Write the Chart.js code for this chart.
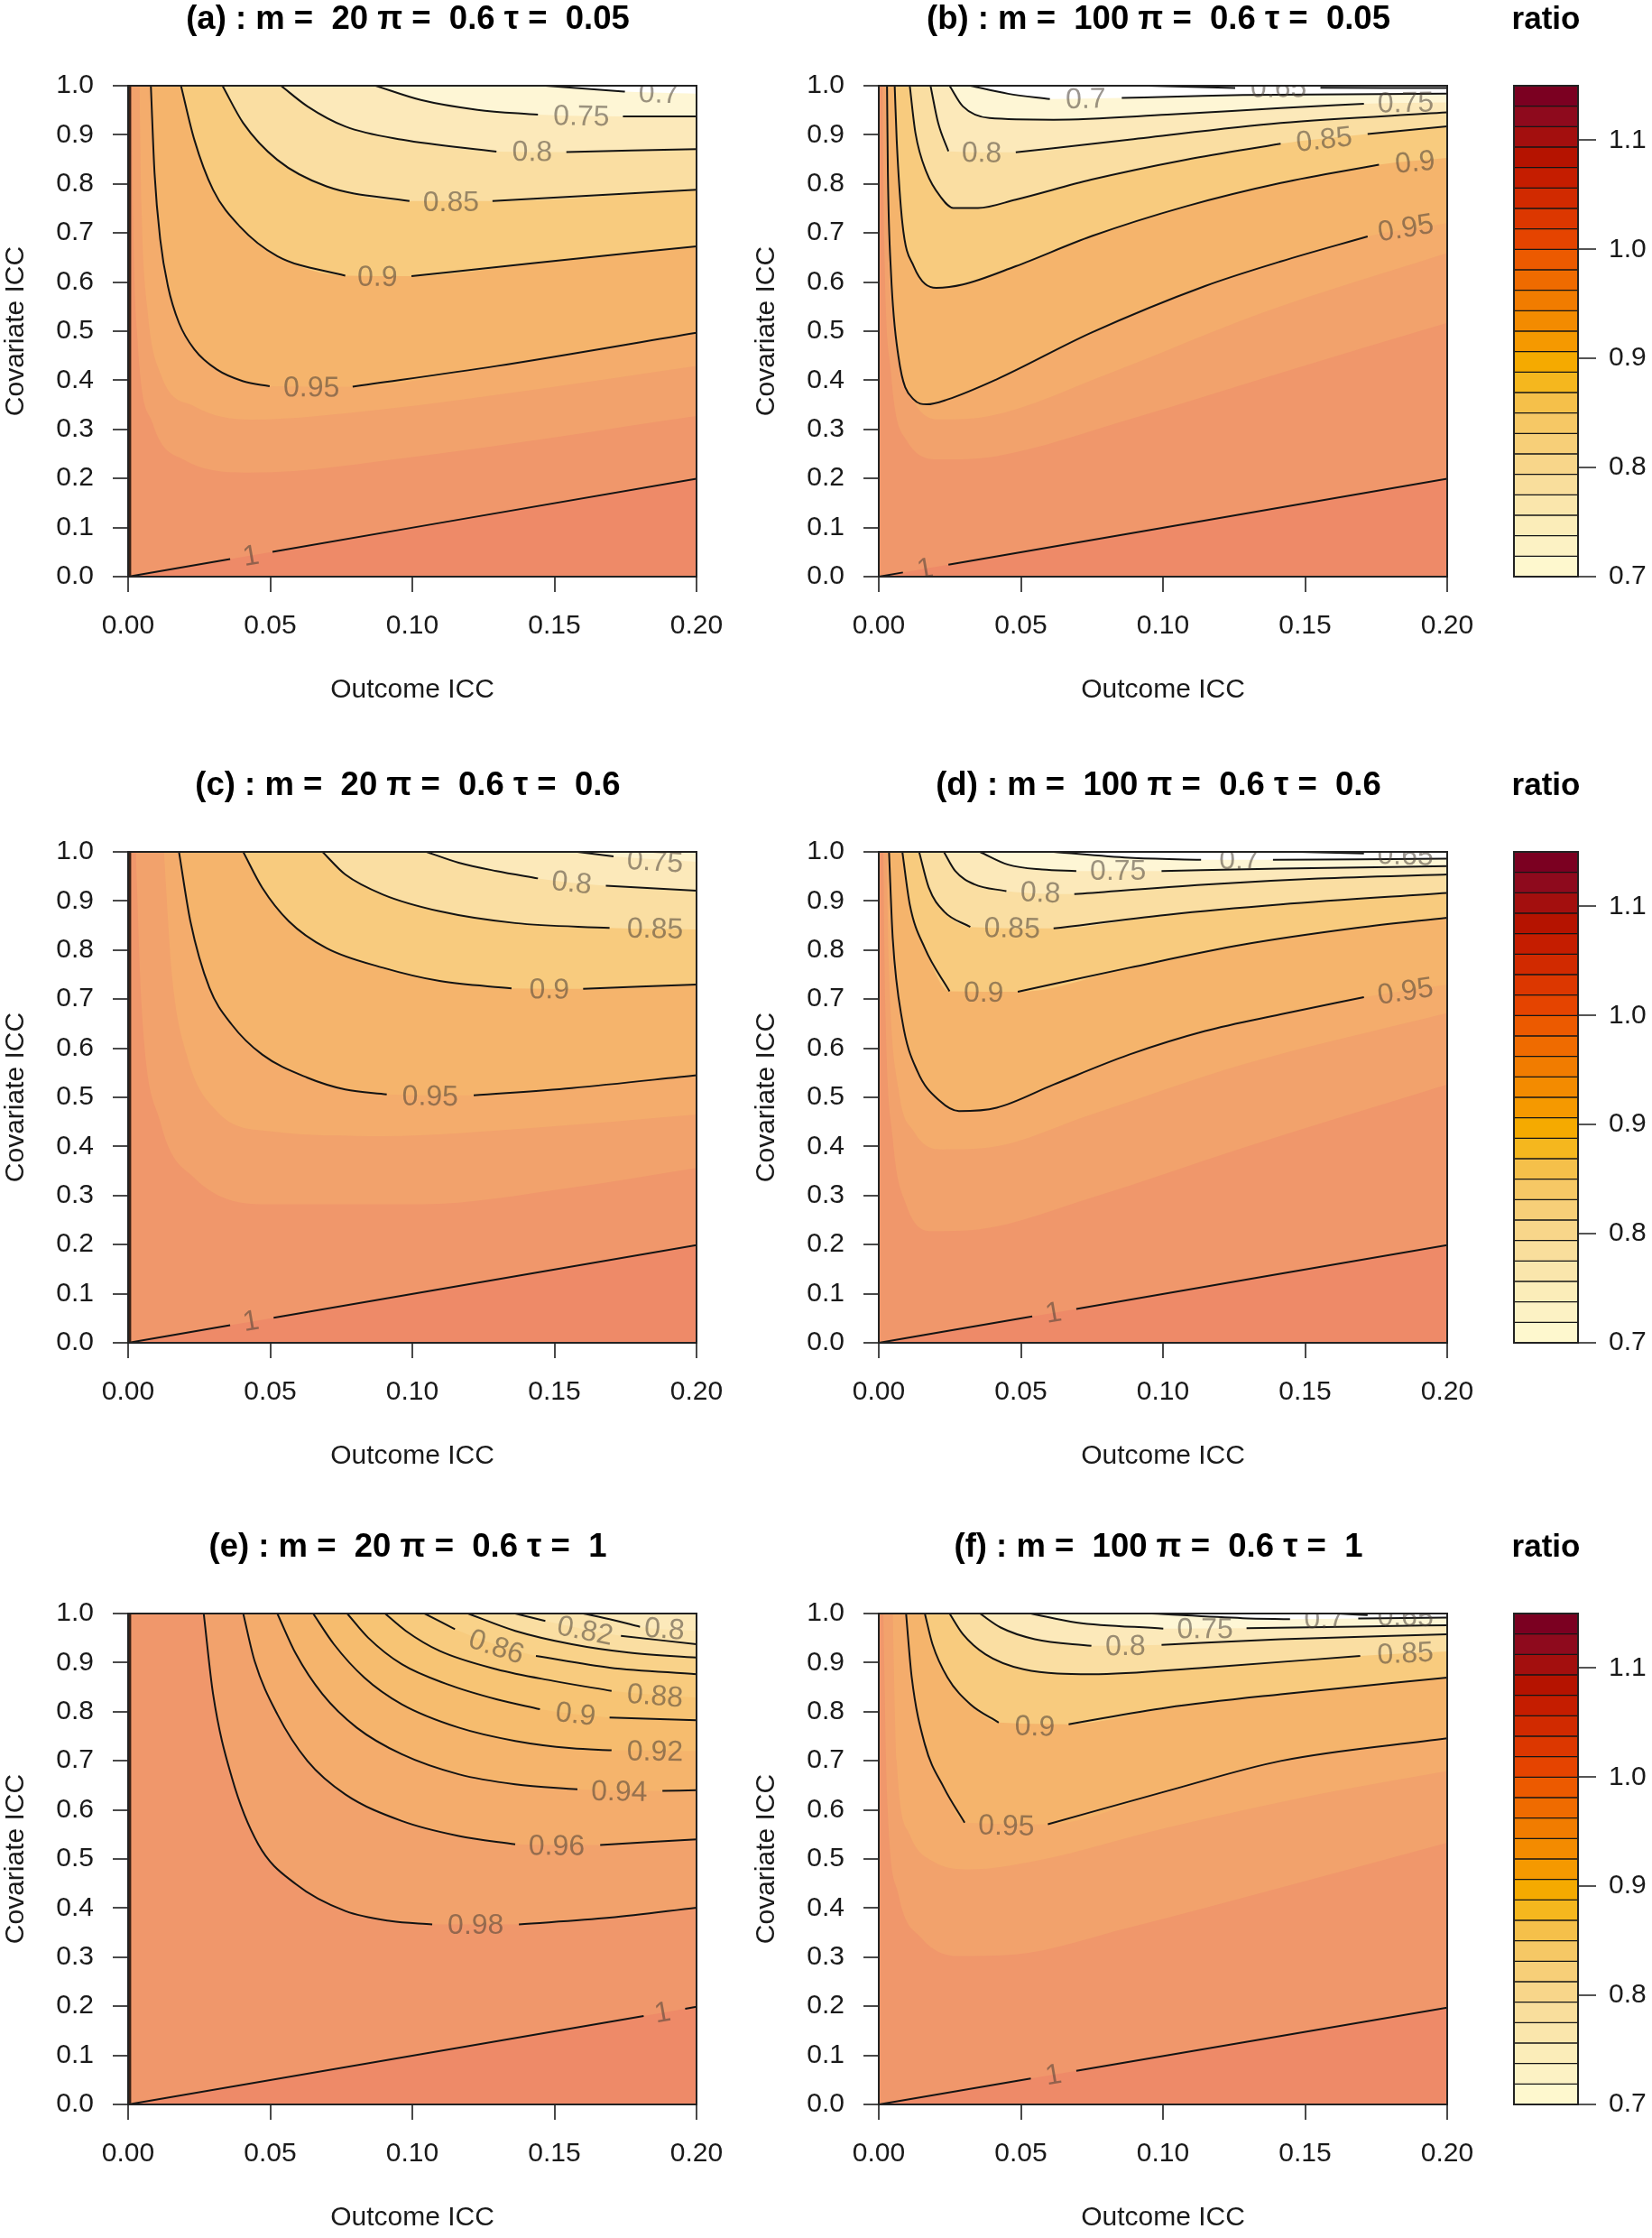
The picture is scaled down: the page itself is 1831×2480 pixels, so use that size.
<!DOCTYPE html>
<html><head><meta charset="utf-8"><title>ratio contours</title>
<script src="https://cdn.jsdelivr.net/npm/chart.js@4.4.1/dist/chart.umd.min.js"></script>
<style>
html,body{margin:0;padding:0;background:#fff;}
body{width:1831px;height:2480px;position:relative;overflow:hidden;}
canvas{position:absolute;}
</style></head><body>
<script>
// ---------- axes / colour scale ----------
const xTicks=[0,0.05,0.10,0.15,0.20];
const yTicks=[0,0.1,0.2,0.3,0.4,0.5,0.6,0.7,0.8,0.9,1.0];
const cbTicks=[0.7,0.8,0.9,1.0,1.1];
const cbLevels=[0.7,0.71875,0.7375,0.75625,0.775,0.79375,0.8125,0.83125,0.85,0.86875,0.8875,0.90625,0.925,0.94375,0.9625,0.98125,1.0,1.01875,1.0375,1.05625,1.075,1.09375,1.1125,1.13125,1.15];

// ---------- panel titles ----------
const titles=["(a) : m =  20 \u03c0 =  0.6 \u03c4 =  0.05","(b) : m =  100 \u03c0 =  0.6 \u03c4 =  0.05",
"(c) : m =  20 \u03c0 =  0.6 \u03c4 =  0.6","(d) : m =  100 \u03c0 =  0.6 \u03c4 =  0.6",
"(e) : m =  20 \u03c0 =  0.6 \u03c4 =  1","(f) : m =  100 \u03c0 =  0.6 \u03c4 =  1"];

// ---------- panel (a) contour curves [outcome ICC, covariate ICC] ----------
const a_l070=[[0.1469,1.0],[0.1748,0.988],[0.2,0.984]];
const a_l075=[[0.0871,1.0],[0.103,0.971],[0.1229,0.951],[0.1442,0.941],[0.1741,0.9376],[0.2,0.9376]];
const a_l080=[[0.0538,1.0],[0.0631,0.958],[0.0764,0.917],[0.0964,0.890],[0.1296,0.866],[0.1542,0.865],[0.2,0.871]];
const a_l085=[[0.0332,1.0],[0.0405,0.924],[0.0525,0.849],[0.0698,0.795],[0.099,0.765],[0.1282,0.765],[0.2,0.788]];
const a_l090=[[0.0186,1.0],[0.0233,0.890],[0.0299,0.788],[0.0392,0.714],[0.0525,0.653],[0.0764,0.613],[0.0997,0.612],[0.1429,0.639],[0.2,0.673]];
const a_l095=[[0.008,1.0],[0.0093,0.822],[0.0113,0.687],[0.014,0.592],[0.0179,0.517],[0.0233,0.463],[0.0312,0.422],[0.0405,0.398],[0.0498,0.388],[0.079,0.387],[0.1296,0.429],[0.2,0.497]];
const a_l100=[[0,0],[0.0359,0.0358],[0.0508,0.0507],[0.2,0.1995]];
const a_f981=[[0.0013,1.0],[0.0017,0.754],[0.0033,0.483],[0.0086,0.313],[0.0193,0.239],[0.0432,0.212],[0.103,0.246],[0.2,0.327]];
const a_f963=[[0.004,1.0],[0.0047,0.754],[0.0067,0.551],[0.0113,0.415],[0.0233,0.347],[0.0432,0.320],[0.0897,0.341],[0.1429,0.381],[0.2,0.429]];
const a_labels=[[0.7,0.1867,0.984],[0.75,0.1595,0.9376],[0.8,0.1422,0.865],[0.85,0.1136,0.7626],[0.9,0.0877,0.6106],[0.95,0.0645,0.385],[1,0.0432,0.042]];

// ---------- panel (b) ----------
const b_l065=[[0.0948,1.0],[0.1254,0.9952],[0.1554,0.9959],[0.2,0.9952]];
const b_l070=[[0.0322,1.0],[0.0455,0.9837],[0.0602,0.9729],[0.0855,0.975],[0.1081,0.9783],[0.1281,0.981],[0.2,0.9837]];
const b_l075=[[0.0249,1.0],[0.0296,0.9579],[0.0389,0.9342],[0.0615,0.9308],[0.1015,0.941],[0.1414,0.9545],[0.1707,0.9634],[0.2,0.9661]];
const b_l080=[[0.0182,1.0],[0.0209,0.924],[0.0245,0.8664],[0.0482,0.8643],[0.0881,0.8901],[0.1414,0.924],[0.2,0.9457]];
const b_l085=[[0.0109,1.0],[0.0129,0.9037],[0.0169,0.8222],[0.0216,0.7748],[0.0262,0.751],[0.0349,0.751],[0.0482,0.768],[0.0748,0.8087],[0.1081,0.8494],[0.1414,0.882],[0.172,0.9016],[0.2,0.9172]];
const b_l090=[[0.0056,1.0],[0.0063,0.890],[0.0083,0.7205],[0.0123,0.6323],[0.0202,0.5882],[0.0296,0.595],[0.0482,0.6323],[0.0748,0.6934],[0.1081,0.7544],[0.1414,0.8019],[0.176,0.8392],[0.2,0.8528]];
const b_l095=[[0.0029,1.0],[0.0032,0.822],[0.0043,0.619],[0.0069,0.449],[0.0123,0.361],[0.0169,0.351],[0.0242,0.361],[0.0415,0.402],[0.0748,0.497],[0.1148,0.592],[0.1414,0.642],[0.172,0.693],[0.2,0.72]];
const b_l100=[[0,0],[0.0085,0.0085],[0.0245,0.0244],[0.2,0.1995]];
const b_f981=[[0.0013,1.0],[0.0019,0.6866],[0.0043,0.4152],[0.0096,0.2795],[0.0216,0.2388],[0.0415,0.2456],[0.0881,0.3202],[0.1414,0.4152],[0.2,0.517]];
const b_f963=[[0.0023,1.0],[0.0029,0.7544],[0.0056,0.4966],[0.0109,0.3745],[0.0216,0.3202],[0.0389,0.327],[0.0815,0.4152],[0.1348,0.5373],[0.2,0.6594]];
const b_labels=[[0.65,0.1407,0.9952],[0.7,0.0728,0.9729],[0.75,0.1854,0.9647],[0.8,0.0362,0.863],[0.85,0.1567,0.8901],[0.9,0.1887,0.844],[0.95,0.1854,0.71],[1,0.0163,0.016]];

// ---------- panel (c) ----------
const c_l075=[[0.1581,1.0],[0.1708,0.991],[0.2,0.980]];
const c_l080=[[0.105,1.0],[0.1163,0.978],[0.1296,0.961],[0.1442,0.946],[0.1681,0.931],[0.2,0.921]];
const c_l085=[[0.0684,1.0],[0.0764,0.954],[0.0897,0.913],[0.1096,0.879],[0.1362,0.855],[0.1694,0.845],[0.2,0.842]];
const c_l090=[[0.0405,1.0],[0.0472,0.927],[0.0565,0.859],[0.0698,0.804],[0.0897,0.764],[0.1096,0.737],[0.1349,0.722],[0.1601,0.721],[0.2,0.730]];
const c_l095=[[0.0179,1.0],[0.0219,0.859],[0.0286,0.723],[0.0365,0.648],[0.0472,0.587],[0.0631,0.540],[0.0764,0.516],[0.091,0.506],[0.1216,0.504],[0.1561,0.519],[0.2,0.545]];
const c_l100=[[0,0],[0.0359,0.0358],[0.0512,0.051],[0.2,0.199]];
const c_f981=[[0.0027,1.0],[0.0047,0.689],[0.0113,0.451],[0.0233,0.336],[0.0498,0.282],[0.103,0.282],[0.1561,0.316],[0.2,0.356]];
const c_f963=[[0.0126,1.0],[0.0153,0.757],[0.0206,0.587],[0.0312,0.472],[0.0498,0.431],[0.0897,0.421],[0.1429,0.438],[0.2,0.465]];
const c_labels=[[0.75,0.1854,0.98],[0.8,0.1561,0.937],[0.85,0.1854,0.843],[0.9,0.1482,0.7196],[0.95,0.1063,0.502],[1,0.0432,0.044]];

// ---------- panel (d) ----------
const d_l065=[[0.1481,1.0],[0.1707,0.997],[0.2,0.9925]];
const d_l070=[[0.0615,1.0],[0.0881,0.988],[0.1134,0.984],[0.1387,0.984],[0.2,0.986]];
const d_l075=[[0.0356,1.0],[0.0455,0.974],[0.0575,0.964],[0.0695,0.961],[0.0995,0.961],[0.1414,0.966],[0.2,0.971]];
const d_l080=[[0.0229,1.0],[0.0269,0.961],[0.0336,0.934],[0.0449,0.920],[0.0688,0.914],[0.1148,0.9335],[0.1547,0.9457],[0.2,0.954]];
const d_l085=[[0.0142,1.0],[0.0176,0.927],[0.0229,0.879],[0.0322,0.847],[0.0615,0.844],[0.1015,0.872],[0.1414,0.893],[0.2,0.9165]];
const d_l090=[[0.0083,1.0],[0.0109,0.893],[0.0162,0.804],[0.0249,0.716],[0.0489,0.715],[0.0881,0.764],[0.1281,0.811],[0.168,0.845],[0.2,0.866]];
const d_l095=[[0.0036,1.0],[0.0049,0.825],[0.0083,0.655],[0.0136,0.553],[0.0216,0.492],[0.0282,0.472],[0.0415,0.479],[0.0615,0.526],[0.0881,0.587],[0.1148,0.635],[0.1414,0.669],[0.1707,0.704],[0.2,0.730]];
const d_l100=[[0,0],[0.054,0.0536],[0.0695,0.069],[0.2,0.199]];
const d_f981=[[0.0016,1.0],[0.0023,0.689],[0.0049,0.4175],[0.0096,0.282],[0.0189,0.2274],[0.0349,0.2308],[0.0748,0.2953],[0.1281,0.397],[0.2,0.526]];
const d_f963=[[0.0027,1.0],[0.0036,0.757],[0.0069,0.519],[0.0123,0.431],[0.0216,0.394],[0.0376,0.397],[0.0748,0.465],[0.1281,0.567],[0.2,0.672]];
const d_labels=[[0.65,0.1853,0.9925],[0.7,0.1268,0.983],[0.75,0.0842,0.961],[0.8,0.0569,0.9165],[0.85,0.0469,0.844],[0.9,0.0369,0.713],[0.95,0.1853,0.716],[1,0.0615,0.061]];

// ---------- panel (e) ----------
const e_l080=[[0.1601,1.0],[0.1694,0.9885],[0.1801,0.973],[0.2,0.9647]];
const e_l082=[[0.1362,1.0],[0.1468,0.985],[0.1734,0.9545],[0.2,0.9375]];
const e_l084=[[0.1196,1.0],[0.1362,0.9647],[0.1561,0.9375],[0.1761,0.9205],[0.2,0.9103]];
const e_l086=[[0.1043,1.0],[0.115,0.968],[0.1435,0.9137],[0.1694,0.8899],[0.2,0.8764]];
const e_l088=[[0.0904,1.0],[0.0977,0.9647],[0.1096,0.9239],[0.1296,0.8865],[0.1495,0.8628],[0.1701,0.8424],[0.2,0.8288]];
const e_l090=[[0.0771,1.0],[0.0844,0.9511],[0.0963,0.8967],[0.1123,0.856],[0.1296,0.8254],[0.1449,0.805],[0.1694,0.788],[0.2,0.7826]];
const e_l092=[[0.0651,1.0],[0.0724,0.9375],[0.0831,0.8696],[0.0963,0.8152],[0.1163,0.7677],[0.1362,0.7405],[0.1561,0.7255],[0.1701,0.7215],[0.2,0.72]];
const e_l094=[[0.0525,1.0],[0.0591,0.9171],[0.0684,0.8356],[0.0804,0.7677],[0.0963,0.7133],[0.1163,0.6726],[0.1362,0.6522],[0.1581,0.642],[0.188,0.6386],[0.2,0.64]];
const e_l096=[[0.0405,1.0],[0.0445,0.9035],[0.0525,0.7948],[0.0631,0.6997],[0.0764,0.6318],[0.0963,0.5774],[0.1163,0.5469],[0.1362,0.5299],[0.1661,0.5285],[0.2,0.5401]];
const e_l098=[[0.0266,1.0],[0.0299,0.8356],[0.0365,0.6658],[0.0458,0.5299],[0.0591,0.4484],[0.0764,0.394],[0.0924,0.3736],[0.107,0.3668],[0.1375,0.3668],[0.1694,0.3804],[0.2,0.4008]];
const e_l100=[[0,0],[0.1814,0.180],[0.196,0.195],[0.2,0.199]];
const e_labels=[[0.8,0.1887,0.9681],[0.82,0.1608,0.9647],[0.86,0.1296,0.932],[0.88,0.1854,0.8322],[0.9,0.1575,0.7948],[0.92,0.1854,0.7188],[0.94,0.1728,0.637],[0.96,0.1508,0.5265],[0.98,0.1223,0.3655],[1,0.188,0.187]];

// ---------- panel (f) ----------
const f_l065=[[0.1614,1.0],[0.172,0.9966],[0.2,0.9946]];
const f_l070=[[0.0961,1.0],[0.1281,0.9905],[0.1447,0.9885],[0.1687,0.9898],[0.2,0.9918]];
const f_l075=[[0.0535,1.0],[0.0695,0.9817],[0.1001,0.9694],[0.1294,0.9701],[0.168,0.9735],[0.2,0.9762]];
const f_l080=[[0.0356,1.0],[0.0429,0.9715],[0.0549,0.9477],[0.0748,0.9341],[0.0995,0.9361],[0.1414,0.9477],[0.2,0.9579]];
const f_l085=[[0.0249,1.0],[0.0296,0.9579],[0.0375,0.9171],[0.0509,0.8865],[0.0748,0.8764],[0.1148,0.8899],[0.1694,0.9137],[0.2,0.9226]];
const f_l090=[[0.0162,1.0],[0.0189,0.9375],[0.0242,0.8696],[0.0322,0.8152],[0.0422,0.7779],[0.0668,0.7745],[0.1015,0.8084],[0.1414,0.8356],[0.2,0.8696]];
const f_l095=[[0.0096,1.0],[0.0116,0.8696],[0.0162,0.7337],[0.0229,0.6454],[0.0302,0.574],[0.0595,0.5707],[0.1015,0.6386],[0.1414,0.6997],[0.2,0.7459]];
const f_l100=[[0,0],[0.0535,0.0527],[0.0695,0.0685],[0.2,0.197]];
const f_f981=[[0.0016,1.0],[0.0029,0.6318],[0.0069,0.428],[0.0149,0.3397],[0.0282,0.3023],[0.0482,0.3057],[0.0881,0.3601],[0.1414,0.4416],[0.2,0.5333]];
const f_f963=[[0.0049,1.0],[0.0063,0.6997],[0.0109,0.5503],[0.0189,0.4959],[0.0322,0.4789],[0.0549,0.4959],[0.1015,0.5639],[0.1547,0.6318],[0.2,0.6793]];
const f_labels=[[0.65,0.1853,0.993],[0.7,0.1567,0.9885],[0.75,0.1148,0.968],[0.8,0.0868,0.9334],[0.85,0.1853,0.9185],[0.9,0.0549,0.7697],[0.95,0.0449,0.5673],[1,0.0615,0.06]];

// dark contour hugging the left edge in panels a, c, e
const edgeLine=[[0.0006,0],[0.0006,1]];

// ---------- styles ----------
const FONT='"Liberation Sans", Arial, Helvetica, sans-serif';
const BAR=['#FEF8CE','#FCF2C4','#FBEDB9','#FAE6AC','#F9DE9C','#F8D68A','#F7CF78','#F6C865','#F5C04A','#F5B71E','#F5AA00','#F59900','#F38B00','#F17C00','#EF6B00','#EC5A00','#E54400','#DC3700','#D12A00','#C51D00','#B51300','#A30F0E','#8E0A1D','#7B0021'];
const PLOT=['#FEF9DC','#FEF6D5','#FDF2CD','#FCEEC4','#FCE9BA','#FBE4AE','#FADEA2','#F9D895','#F9D289','#F8CB7E','#F7C474','#F6BC6E','#F5B46C','#F4AC6C','#F2A26C','#F0976B','#EE8A68','#EC7C62','#E96E5C','#E66056','#E05050','#D8404A','#CC3444','#C02A40'];

function bandColor(v){
  if(v<cbLevels[0]-1e-9) return '#FFFFFF';
  for(let k=0;k<cbLevels.length-1;k++){
    if(v>=cbLevels[k]-1e-9 && v<cbLevels[k+1]-1e-9) return PLOT[k];
  }
  return PLOT[PLOT.length-1];
}
const noPad=s=>{s.paddingLeft=0;s.paddingRight=0;s.paddingTop=0;s.paddingBottom=0;};

function buildPanel(left,top,title,curves,labels,edge){
  const cv=document.createElement('canvas');
  cv.width=830;cv.height=787;cv.style.left=left+'px';cv.style.top=top+'px';
  document.body.appendChild(cv);
  const cs=curves.slice().sort((p,q)=>q[0]-p[0]);
  const ds=[];
  cs.forEach((c,i)=>{
    const nxt=cs[i+1];
    const mid=nxt?(c[0]+nxt[0])/2:c[0]-0.01;
    ds.push({data:c[1].map(p=>({x:p[0],y:p[1]})),fill:'end',backgroundColor:bandColor(mid),
      borderColor:'rgba(0,0,0,0)',borderWidth:0,pointRadius:0,cubicInterpolationMode:'monotone',order:1000-i});
  });
  const lineCurves=cs.filter(c=>c[2]);
  lineCurves.forEach(c=>{
    const d=c[1].map(p=>({x:p[0],y:p[1]}));
    const lab=labels.find(l=>Math.abs(l[0]-c[0])<1e-9);
    if(lab){const j=d.findIndex(p=>p.x>lab[1]); if(j>0) d.splice(j,0,{x:lab[1],y:null});}
    ds.push({data:d,fill:false,borderColor:'#141414',borderWidth:2,pointRadius:0,cubicInterpolationMode:'monotone',order:1});
  });
  if(edge) ds.push({data:edge.map(p=>({x:p[0],y:p[1]})),fill:false,borderColor:'#3b2216',borderWidth:3,pointRadius:0,order:0});

  const bgColor=bandColor(1.005);
  const bg={id:'bg'+left+top,beforeDatasetsDraw(ch){const a=ch.chartArea,ctx=ch.ctx;ctx.save();ctx.fillStyle=bgColor;ctx.fillRect(a.left,a.top,a.right-a.left,a.bottom-a.top);ctx.restore();}};
  const labs={id:'labs'+left+top,afterDatasetsDraw(ch){
    const a=ch.chartArea,ctx=ch.ctx,xs=ch.scales.x,ys=ch.scales.y;
    ctx.save();ctx.beginPath();ctx.rect(a.left,a.top,a.right-a.left,a.bottom-a.top);ctx.clip();
    ctx.font='32px '+FONT;ctx.fillStyle='rgba(72,64,54,0.55)';ctx.textAlign='center';ctx.textBaseline='middle';
    labels.forEach(l=>{
      const c=lineCurves.find(cc=>Math.abs(cc[0]-l[0])<1e-9); if(!c) return;
      const pts=c[1];let i=pts.findIndex(p=>p[0]>l[1]); if(i<1) i=pts.length-1;
      const x0=xs.getPixelForValue(pts[i-1][0]),y0=ys.getPixelForValue(pts[i-1][1]);
      const x1=xs.getPixelForValue(pts[i][0]),y1=ys.getPixelForValue(pts[i][1]);
      let ang=Math.atan2(y1-y0,x1-x0); if(ang>Math.PI/2) ang-=Math.PI; if(ang<-Math.PI/2) ang+=Math.PI;
      ctx.save();ctx.translate(xs.getPixelForValue(l[1]),ys.getPixelForValue(l[2]));ctx.rotate(ang);
      ctx.fillText(String(l[0]),0,1);ctx.restore();
    });
    ctx.restore();
  }};
  const frame={id:'frame'+left+top,afterDatasetsDraw(ch){const a=ch.chartArea,ctx=ch.ctx;ctx.save();ctx.strokeStyle='#222';ctx.lineWidth=2;ctx.strokeRect(a.left,a.top,a.right-a.left,a.bottom-a.top);ctx.restore();}};
  const ttl={id:'ttl'+left+top,afterDraw(ch){const a=ch.chartArea,ctx=ch.ctx;ctx.save();ctx.font='bold 36.5px '+FONT;ctx.fillStyle='#000';ctx.textAlign='center';ctx.textBaseline='middle';ctx.fillText(title,(a.left+a.right)/2-5,22);ctx.restore();}};

  const tickFont={family:FONT,size:30};
  new Chart(cv,{type:'line',data:{datasets:ds},
    options:{responsive:false,animation:false,devicePixelRatio:1,events:[],
      layout:{padding:{top:95,left:0,right:58,bottom:0}},
      plugins:{legend:{display:false},tooltip:{enabled:false},title:{display:false}},
      scales:{
        x:{type:'linear',min:0,max:0.2,
          afterBuildTicks:s=>{s.ticks=xTicks.map(v=>({value:v}));},
          afterFit:s=>{s.height=148;noPad(s);},
          ticks:{callback:v=>Number(v).toFixed(2),font:tickFont,color:'#1a1a1a',padding:20,maxRotation:0,autoSkip:false},
          grid:{display:true,drawOnChartArea:false,drawTicks:true,tickLength:17,color:'#4a4a4a',lineWidth:2},
          border:{display:false},
          title:{display:true,text:'Outcome ICC',font:tickFont,color:'#1a1a1a',padding:{top:0,bottom:4}}},
        y:{type:'linear',min:0,max:1,
          afterBuildTicks:s=>{s.ticks=yTicks.map(v=>({value:v}));},
          afterFit:s=>{s.width=142;noPad(s);},
          ticks:{callback:v=>Number(v).toFixed(1),font:tickFont,color:'#1a1a1a',padding:21,autoSkip:false},
          grid:{display:true,drawOnChartArea:false,drawTicks:true,tickLength:17,color:'#4a4a4a',lineWidth:2},
          border:{display:false},
          title:{display:true,text:'Covariate ICC',font:tickFont,color:'#1a1a1a',padding:{top:0,bottom:0}}}
      }},
    plugins:[bg,labs,frame,ttl]});
}

function buildBar(top){
  const cv=document.createElement('canvas');
  cv.width=191;cv.height=787;cv.style.left='1640px';cv.style.top=top+'px';
  document.body.appendChild(cv);
  const ds=BAR.map((c,k)=>({data:[[cbLevels[k],cbLevels[k+1]]],backgroundColor:c,borderColor:'#161616',borderWidth:1,borderSkipped:false,grouped:false,barPercentage:1,categoryPercentage:1}));
  const frame={id:'cbf'+top,afterDatasetsDraw(ch){const a=ch.chartArea,ctx=ch.ctx;ctx.save();ctx.strokeStyle='#222';ctx.lineWidth=2;ctx.strokeRect(a.left,a.top,a.right-a.left,a.bottom-a.top);ctx.restore();}};
  const ttl={id:'cbt'+top,afterDraw(ch){const a=ch.chartArea,ctx=ch.ctx;ctx.save();ctx.font='bold 35px '+FONT;ctx.fillStyle='#000';ctx.textAlign='center';ctx.textBaseline='middle';ctx.fillText('ratio',(a.left+a.right)/2,22);ctx.restore();}};
  new Chart(cv,{type:'bar',data:{labels:[''],datasets:ds},
    options:{responsive:false,animation:false,devicePixelRatio:1,events:[],
      layout:{padding:{top:95,left:38,right:0,bottom:148}},
      plugins:{legend:{display:false},tooltip:{enabled:false}},
      scales:{
        x:{display:false},
        y:{position:'right',min:0.7,max:1.15,
          afterBuildTicks:s=>{s.ticks=cbTicks.map(v=>({value:v}));},
          afterFit:s=>{s.width=82;noPad(s);},
          ticks:{callback:v=>Number(v).toFixed(1),font:{family:FONT,size:30},color:'#1a1a1a',padding:14},
          grid:{display:true,drawOnChartArea:false,drawTicks:true,tickLength:20,color:'#555',lineWidth:2},
          border:{display:false}}
      }},
    plugins:[frame,ttl]});
}

const rowTop=[0,849,1693];
const colLeft=[0,832];
buildPanel(colLeft[0],rowTop[0],titles[0],
  [[1,a_l100,true],[0.98125,a_f981,false],[0.9625,a_f963,false],[0.95,a_l095,true],[0.9,a_l090,true],[0.85,a_l085,true],[0.8,a_l080,true],[0.75,a_l075,true],[0.7,a_l070,true]],a_labels,edgeLine);
buildPanel(colLeft[1],rowTop[0],titles[1],
  [[1,b_l100,true],[0.98125,b_f981,false],[0.9625,b_f963,false],[0.95,b_l095,true],[0.9,b_l090,true],[0.85,b_l085,true],[0.8,b_l080,true],[0.75,b_l075,true],[0.7,b_l070,true],[0.65,b_l065,true]],b_labels,null);
buildPanel(colLeft[0],rowTop[1],titles[2],
  [[1,c_l100,true],[0.98125,c_f981,false],[0.9625,c_f963,false],[0.95,c_l095,true],[0.9,c_l090,true],[0.85,c_l085,true],[0.8,c_l080,true],[0.75,c_l075,true]],c_labels,edgeLine);
buildPanel(colLeft[1],rowTop[1],titles[3],
  [[1,d_l100,true],[0.98125,d_f981,false],[0.9625,d_f963,false],[0.95,d_l095,true],[0.9,d_l090,true],[0.85,d_l085,true],[0.8,d_l080,true],[0.75,d_l075,true],[0.7,d_l070,true],[0.65,d_l065,true]],d_labels,null);
buildPanel(colLeft[0],rowTop[2],titles[4],
  [[1,e_l100,true],[0.98,e_l098,true],[0.96,e_l096,true],[0.94,e_l094,true],[0.92,e_l092,true],[0.9,e_l090,true],[0.88,e_l088,true],[0.86,e_l086,true],[0.84,e_l084,true],[0.82,e_l082,true],[0.8,e_l080,true]],e_labels,edgeLine);
buildPanel(colLeft[1],rowTop[2],titles[5],
  [[1,f_l100,true],[0.98125,f_f981,false],[0.9625,f_f963,false],[0.95,f_l095,true],[0.9,f_l090,true],[0.85,f_l085,true],[0.8,f_l080,true],[0.75,f_l075,true],[0.7,f_l070,true],[0.65,f_l065,true]],f_labels,null);
rowTop.forEach(t=>buildBar(t));
</script>
</body></html>
